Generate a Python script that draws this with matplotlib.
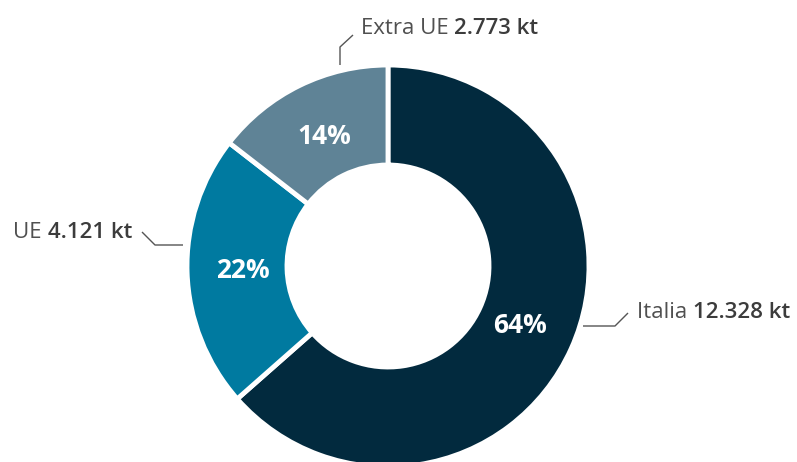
import numpy as np
import matplotlib.pyplot as plt

# data
categories = ['Italia', 'UE', 'Extra UE']
values_kt = [12328, 4121, 2773]
value_labels = ['12.328 kt', '4.121 kt', '2.773 kt']
shares = [63.5, 22.0, 14.5]          # wedge sizes as drawn in the picture (%)
pct_labels = ['64%', '22%', '14%']
colors = ['#022A3E', '#007AA0', '#5F8396']

plt.rcParams['font.family'] = ['Open Sans', 'DejaVu Sans']

W, H = 797, 462
fig = plt.figure(figsize=(W / 100, H / 100), dpi=100)
ax = fig.add_axes([0, 0, 1, 1])

cx, cy, R = 388, H - 266, 201  # pie centre and radius in pixels (y up)

wedges, texts = ax.pie(
    shares, colors=colors, startangle=90, counterclock=False,
    center=(cx, cy), radius=R, frame=True,
    wedgeprops=dict(width=100, edgecolor='white', linewidth=3.5))
ax.set_xlim(0, W)
ax.set_ylim(0, H)
ax.set_aspect('equal')
ax.axis('off')

# percentage labels in the middle of each ring segment
for w, lab in zip(wedges, pct_labels):
    ang = np.deg2rad((w.theta1 + w.theta2) / 2)
    r = R * 0.72
    ax.text(cx + r * np.cos(ang), cy + r * np.sin(ang), lab,
            color='white', fontsize=19, fontweight='bold',
            ha='center', va='center')

# leader lines (layout only), image coords -> y up
line_col = '#555555'
leaders = {
    'Italia': [(583, 326), (615, 326), (628, 313)],
    'UE': [(183, 245), (155, 245), (142, 232)],
    'Extra UE': [(340, 65), (340, 47), (353, 35)],
}
for name, pts in leaders.items():
    xs = [p[0] for p in pts]
    ys = [H - p[1] for p in pts]
    ax.plot(xs, ys, color=line_col, lw=1.0, solid_capstyle='butt')

fig.canvas.draw()
renderer = fig.canvas.get_renderer()

def two_part(x, y, name, val, align='left'):
    # regular name + bold value on one line
    fs = 16
    if align == 'left':
        t1 = ax.text(x, H - y, name + ' ', fontsize=fs, color='#505050',
                     ha='left', va='center')
        bb = t1.get_window_extent(renderer)
        x2 = ax.transData.inverted().transform((bb.x1, 0))[0]
        ax.text(x2, H - y, val, fontsize=fs, color='#3C3C3C',
                fontweight='semibold', ha='left', va='center')
    else:
        t2 = ax.text(x, H - y, val, fontsize=fs, color='#3C3C3C',
                     fontweight='semibold', ha='right', va='center')
        bb = t2.get_window_extent(renderer)
        x1 = ax.transData.inverted().transform((bb.x0, 0))[0]
        ax.text(x1, H - y, name + ' ', fontsize=fs, color='#505050',
                ha='right', va='center')

two_part(637, 312, categories[0], value_labels[0])
two_part(132, 232, categories[1], value_labels[1], align='right')
two_part(361, 28, categories[2], value_labels[2])

fig.savefig('out.png', dpi=100)
